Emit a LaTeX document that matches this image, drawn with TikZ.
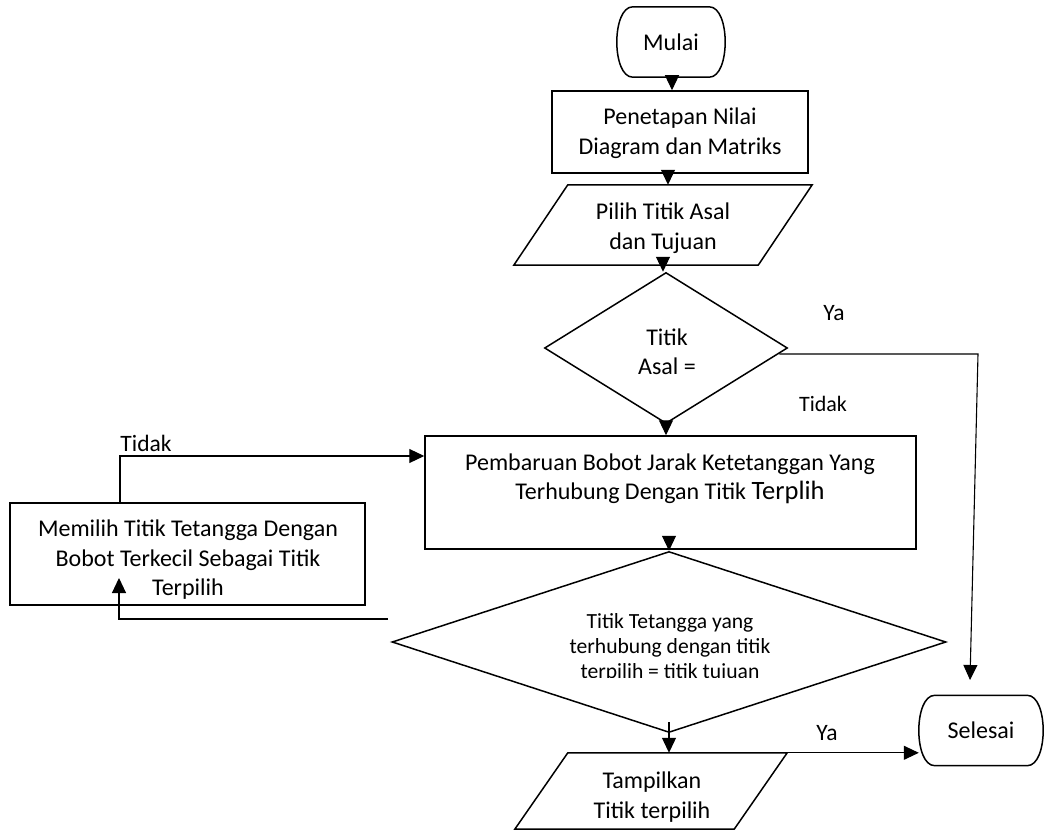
\documentclass[tikz,border=0pt]{standalone}
\usepackage{fontspec}
\setmainfont{Carlito}
\usetikzlibrary{shapes.geometric,arrows.meta}
\tikzset{
  shp/.style={draw, line width=1.5pt, inner sep=0pt},
  ghost/.style={draw=none, inner sep=0pt},
  txt/.style={align=center, inner sep=0pt, font=\fontsize{24}{29.5}\selectfont},
  smalltxt/.style={align=center, inner sep=0pt, font=\fontsize{21.6}{25}\selectfont},
  lbl/.style={inner sep=0pt, font=\fontsize{23.5}{28}\selectfont},
  conn/.style={line width=1.1pt, -{Triangle[length=15pt,width=14pt]}},
}
\newcommand\termshape[1]{\draw[line width=1.5pt] ([xshift=16pt]#1.north west) -- ([xshift=-16pt]#1.north east) .. controls ([xshift=5.33pt]#1.north east) and ([xshift=5.33pt]#1.south east) .. ([xshift=-16pt]#1.south east) -- ([xshift=16pt]#1.south west) .. controls ([xshift=-5.33pt]#1.south west) and ([xshift=-5.33pt]#1.north west) .. cycle;}
\newcommand\paralshape[2]{\draw[line width=1.5pt] ([xshift=#2]#1.north west) -- (#1.north east) -- ([xshift=-#2]#1.south east) -- (#1.south west) -- cycle;}
\begin{document}
\begin{tikzpicture}[x=1pt,y=-1pt]
\useasboundingbox (0,0) rectangle (1045,832);
% start
\node[ghost, minimum width=108pt, minimum height=70pt, font=\fontsize{24}{28}\selectfont] (mulai) at (671,42) {Mulai};
\termshape{mulai}
% set values
\node[shp, minimum width=256pt, minimum height=82pt] (pen) at (680,132) {};
\node[txt] (pentxt) at (680,133) {Penetapan Nilai\\Diagram dan Matriks};
% input
\node[ghost, minimum width=298pt, minimum height=80pt] (pilih) at (663,225) {};
\paralshape{pilih}{54pt}
\node[txt] (pilihtxt) at (663,228) {Pilih Titik Asal\\dan Tujuan};
% decision 1
\node[shp, diamond, minimum width=243pt, minimum height=151pt] (d1) at (666,348) {};
\node[txt] (d1txt) at (667,352) {Titik\\Asal =};
% update
\node[shp, minimum width=491pt, minimum height=113pt] (upd) at (670.5,492.5) {};
\node[txt] (updtxt) at (670,479) {Pembaruan Bobot Jarak Ketetanggan Yang\\Terhubung Dengan Titik {\fontsize{26.5}{29.5}\selectfont Terplih}};
% choose neighbour
\node[shp, minimum width=355pt, minimum height=102pt] (mem) at (187.5,554) {};
\begin{scope}
\clip (10,503) rectangle (365,602);
\node[txt] (memtxt) at (188,560) {Memilih Titik Tetangga Dengan\\Bobot Terkecil Sebagai Titik\\Terpilih};
\end{scope}
% decision 2
\node[shp, diamond, minimum width=554pt, minimum height=181pt] (d2) at (669,642) {};
\begin{scope}
\clip (400,590) rectangle (940,677);
\node[smalltxt] (d2txt) at (670,648) {Titik Tetangga yang\\terhubung dengan titik\\terpilih = titik tujuan};
\end{scope}
% output
\node[ghost, minimum width=272pt, minimum height=76pt] (tampil) at (651,791) {};
\paralshape{tampil}{53pt}
\node[txt] (tampiltxt) at (652,797) {Tampilkan\\Titik terpilih};
% end
\node[ghost, minimum width=124pt, minimum height=70pt, font=\fontsize{24}{28}\selectfont] (sel) at (981,730.5) {Selesai};
\termshape{sel}
% coordinates
\coordinate (yaA) at (978,354);
\coordinate (yaB) at (970,680);
\coordinate (lp1) at (388,619);
\coordinate (lp2) at (119,619);
\coordinate (lp3) at (119,578);
\coordinate (tk) at (120,456);
% connectors
\draw[conn] ([xshift=1pt]mulai.south) -- ([xshift=1pt]mulai.south |- pen.north);
\draw[conn] ([xshift=5pt]pilih.north |- pen.south) -- ([xshift=5pt]pilih.north);
\draw[conn] (pilih.south) -- (pilih.south |- d1.north);
\draw[conn] (d1.south) -- (d1.south |- upd.north);
\draw[conn] ([xshift=-9pt,yshift=-6pt]d1.east) -- (yaA) -- (yaB);
\draw[conn] ([yshift=12pt]d2.north |- upd.south) -- (d2.north);
\draw[conn] ([yshift=11pt]d2.south) -- (d2.south |- tampil.north);
\draw[conn] (tampil.north east) -- (tampil.north east -| sel.west);
\draw[conn] (lp1) -- (lp2) -- (lp3);
\draw[conn] (tk |- mem.north) -- (tk) -- (tk -| upd.west);
% labels
\node[lbl] (ya1) at (834,313) {Ya};
\node[lbl, font=\fontsize{22}{26}\selectfont] (tidak1) at (823,404) {Tidak};
\node[lbl] (tidak2) at (146,443) {Tidak};
\node[lbl] (ya2) at (827,733) {Ya};
\end{tikzpicture}
\end{document}
